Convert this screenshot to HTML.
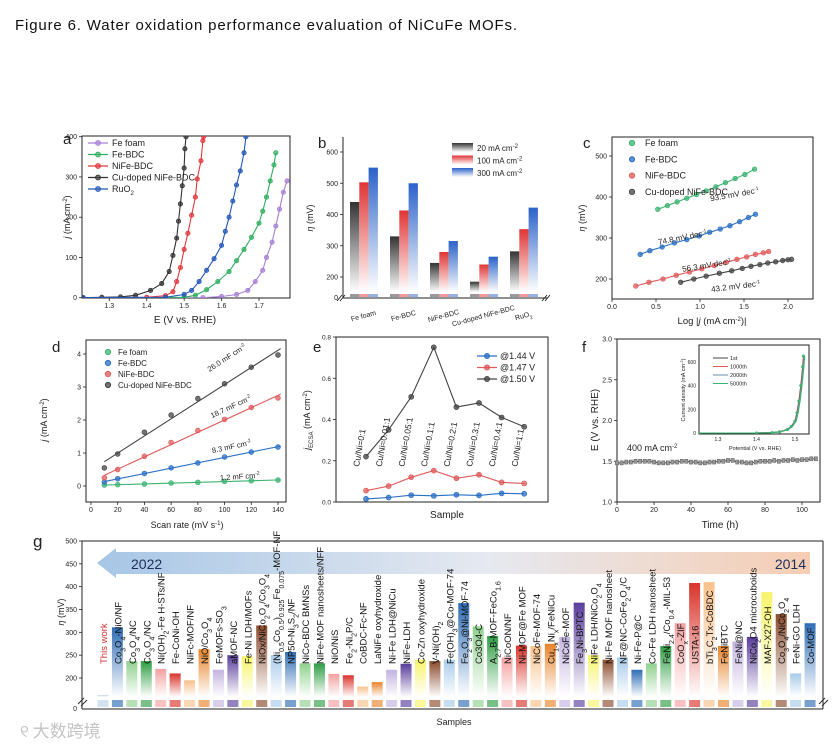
<!DOCTYPE html>
<html><head><meta charset="utf-8"><style>
html,body{margin:0;padding:0;background:#fff}
svg{display:block;font-family:"Liberation Sans","Noto Sans CJK SC",sans-serif}
</style></head><body>
<svg id="chart" width="833" height="746" viewBox="0 0 833 746" xmlns="http://www.w3.org/2000/svg">
<defs id="defs"></defs>
<text x="15" y="30" font-size="15" fill="#111" textLength="502">Figure 6. Water oxidation performance evaluation of NiCuFe MOFs.</text>
<text x="20" y="737" font-size="17" fill="#c4c4c4" font-family="'Noto Sans CJK SC',sans-serif">୧ 大数跨境</text>
</svg>
<script>
// ---------- data ----------
const aSeriesNames = ['Fe foam','Fe-BDC','NiFe-BDC','Cu-doped NiFe-BDC','RuO<tspan baseline-shift="sub" font-size="6">2</tspan>'];
const aFeFoamE = [1.23,1.55,1.60,1.64,1.67,1.69,1.71,1.72,1.735,1.745,1.755,1.765,1.775];
const aFeFoamJ = [0,0,3,8,18,40,68,100,138,178,220,262,290];
const aFeBdcE = [1.23,1.50,1.53,1.56,1.59,1.62,1.64,1.66,1.68,1.70,1.71,1.72,1.73,1.74,1.745];
const aFeBdcJ = [0,1,6,20,40,65,92,120,150,185,215,250,290,330,360];
const aNiFeE = [1.23,1.40,1.45,1.47,1.48,1.49,1.50,1.51,1.52,1.53,1.535,1.545,1.55,1.552];
const aNiFeJ = [0,1,5,15,40,75,120,160,205,250,295,340,390,400];
const aCuE = [1.23,1.28,1.33,1.37,1.41,1.44,1.46,1.47,1.48,1.485,1.49,1.495,1.50,1.502,1.505];
const aCuJ = [0,1,2,6,18,35,65,105,148,190,233,278,322,370,400];
const aRuE = [1.23,1.45,1.50,1.52,1.54,1.56,1.58,1.60,1.61,1.62,1.63,1.64,1.65,1.66,1.665];
const aRuJ = [0,1,8,18,40,68,97,130,165,200,240,280,315,360,400];
const aTicksX = [1.3,1.4,1.5,1.6,1.7];
const aTicksY = [0,100,200,300,400];
const bCategories = ['Fe foam','Fe-BDC','NiFe-BDC','Cu-doped NiFe-BDC','RuO<tspan baseline-shift="sub" font-size="5">2</tspan>'];
const b20 = [440,330,245,185,282];
const b100 = [503,413,280,240,353];
const b300 = [550,500,315,265,422];
const bTicksY = [200,300,400,500,600];
const cFeFoamX = [0.52,0.63,0.74,0.85,0.96,1.07,1.18,1.29,1.40,1.51,1.62];
const cFeFoamY = [370,379,388,397,406,415,425,435,445,455,468];
const cFeBdcX = [0.32,0.43,0.57,0.71,0.85,0.99,1.11,1.23,1.34,1.45,1.55,1.63];
const cFeBdcY = [260,269,278,288,296,305,314,322,330,340,350,358];
const cNiFeX = [0.27,0.42,0.58,0.73,0.88,1.02,1.16,1.30,1.42,1.53,1.63,1.72,1.78];
const cNiFeY = [183,192,200,209,217,225,233,241,248,254,260,264,267];
const cCuX = [0.78,0.93,1.07,1.22,1.36,1.48,1.58,1.68,1.77,1.86,1.94,2.00,2.04];
const cCuY = [192,200,207,214,220,226,231,235,239,242,245,247,248];
const cTicksX = [0.0,0.5,1.0,1.5,2.0];
const cTicksY = [200,300,400,500];
const dScan = [10,20,40,60,80,100,120,140];
const dFeFoam = [0.03,0.04,0.06,0.09,0.11,0.14,0.16,0.18];
const dFeBdc = [0.12,0.22,0.38,0.55,0.70,0.88,1.03,1.18];
const dNiFe = [0.25,0.50,0.90,1.32,1.68,2.02,2.38,2.67];
const dCu = [0.55,0.97,1.63,2.15,2.65,3.10,3.60,3.97];
const dTicksX = [0,20,40,60,80,100,120,140];
const dTicksY = [0,1,2,3,4];
const eSamples = ['Cu/Ni=0:1','Cu/Ni=0.01:1','Cu/Ni=0.05:1','Cu/Ni=0.1:1','Cu/Ni=0.2:1','Cu/Ni=0.3:1','Cu/Ni=0.4:1','Cu/Ni=1:1'];
const e144 = [0.015,0.022,0.033,0.030,0.035,0.032,0.042,0.040];
const e147 = [0.055,0.077,0.120,0.152,0.115,0.132,0.095,0.090];
const e150 = [0.22,0.35,0.51,0.75,0.46,0.48,0.41,0.365];
const eTicksY = [0.0,0.2,0.4,0.6,0.8];
const fTime = [0,2.5,5,7.5,10,12.5,15,17.5,20,22.5,25,27.5,30,32.5,35,37.5,40,42.5,45,47.5,50,52.5,55,57.5,60,62.5,65,67.5,70,72.5,75,77.5,80,82.5,85,87.5,90,92.5,95,97.5,100,102.5,105,107.5];
const fE = [1.48,1.48,1.49,1.49,1.50,1.50,1.50,1.50,1.49,1.48,1.48,1.48,1.49,1.49,1.50,1.50,1.49,1.49,1.48,1.48,1.49,1.49,1.50,1.50,1.51,1.51,1.49,1.49,1.48,1.48,1.49,1.50,1.50,1.50,1.51,1.50,1.51,1.51,1.52,1.51,1.52,1.52,1.53,1.53];
const fTicksX = [0,20,40,60,80,100];
const fTicksY = [1.0,1.5,2.0,2.5,3.0];
const fInsetE = [1.25,1.40,1.44,1.46,1.48,1.49,1.50,1.505,1.51,1.515,1.52,1.522];
const fInsetJ = [0,0,3,10,30,55,100,170,270,400,560,650];
const gSamples = ['This work','Co<tspan baseline-shift="sub" font-size="7">3</tspan>O<tspan baseline-shift="sub" font-size="7">4</tspan>-NiO/NF','Co<tspan baseline-shift="sub" font-size="7">3</tspan>O<tspan baseline-shift="sub" font-size="7">4</tspan>/NC','Co<tspan baseline-shift="sub" font-size="7">3</tspan>O<tspan baseline-shift="sub" font-size="7">4</tspan>/NC','Ni(OH)<tspan baseline-shift="sub" font-size="7">2</tspan>-Fe H-STs/NF','Fe-CoNi-OH','NiFc-MOF/NF','NiO/Co<tspan baseline-shift="sub" font-size="7">3</tspan>O<tspan baseline-shift="sub" font-size="7">4</tspan>','FeMOFs-SO<tspan baseline-shift="sub" font-size="7">3</tspan>','aMOF-NC','Fe-Ni LDH/MOFs','NiOx/NiCo<tspan baseline-shift="sub" font-size="7">2</tspan>O<tspan baseline-shift="sub" font-size="7">4</tspan>/Co<tspan baseline-shift="sub" font-size="7">3</tspan>O<tspan baseline-shift="sub" font-size="7">4</tspan>','(Ni<tspan baseline-shift="sub" font-size="7">0.5</tspan>Co<tspan baseline-shift="sub" font-size="7">0.5</tspan>)<tspan baseline-shift="sub" font-size="7">0.925</tspan>Fe<tspan baseline-shift="sub" font-size="7">0.075</tspan>-MOF-NF','NP50-Ni<tspan baseline-shift="sub" font-size="7">3</tspan>S<tspan baseline-shift="sub" font-size="7">2</tspan>/NF','NiCo-BDC BMNSs','NiFe-MOF nanosheets/NFF','NiO/NiS','Fe<tspan baseline-shift="sub" font-size="7">2</tspan>-Ni<tspan baseline-shift="sub" font-size="7">2</tspan>P/C','CoBDC-Fc-NF','LaNiFe oxyhydroxide','Ni-Fe LDH@NiCu','NiFe-LDH','Co-Zn oxyhydroxide','V-Ni(OH)<tspan baseline-shift="sub" font-size="7">2</tspan>','Fe(OH)<tspan baseline-shift="sub" font-size="7">3</tspan>@Co-MOF-74','Fe<tspan baseline-shift="sub" font-size="7">2</tspan>O<tspan baseline-shift="sub" font-size="7">3</tspan>@Ni-MOF-74','Co3O4-C','A<tspan baseline-shift="sub" font-size="7">2.7</tspan>B-MOF-FeCo<tspan baseline-shift="sub" font-size="7">1.6</tspan>','NiCoON/NF','Ni-MOF@Fe MOF','NiCoFe-MOF-74','Cu<tspan baseline-shift="sub" font-size="7">1-x</tspan>Ni<tspan baseline-shift="sub" font-size="7">x</tspan>/FeNiCu','NiCoFe-MOF','Fe<tspan baseline-shift="sub" font-size="7">3</tspan>Ni-BPTC','NiFe LDH/NiCo<tspan baseline-shift="sub" font-size="7">2</tspan>O<tspan baseline-shift="sub" font-size="7">4</tspan>','Ni-Fe MOF nanosheet','NF@NC-CoFe<tspan baseline-shift="sub" font-size="7">2</tspan>O<tspan baseline-shift="sub" font-size="7">4</tspan>/C','Ni-Fe-P@C','Co-Fe LDH nanosheet','FeNi<tspan baseline-shift="sub" font-size="7">2.4</tspan>/Co<tspan baseline-shift="sub" font-size="7">0.4</tspan>-MIL-53','CoO<tspan baseline-shift="sub" font-size="7">x</tspan>-ZIF','USTA-16','bTi<tspan baseline-shift="sub" font-size="7">3</tspan>C<tspan baseline-shift="sub" font-size="7">2</tspan>Tx-CoBDC','FeNiBTC','FeNi@NC','NiCo<tspan baseline-shift="sub" font-size="7">2</tspan>O4 microcuboids','MAF-X27-OH','Co<tspan baseline-shift="sub" font-size="7">3</tspan>O<tspan baseline-shift="sub" font-size="7">4</tspan>/NiCo<tspan baseline-shift="sub" font-size="7">2</tspan>O<tspan baseline-shift="sub" font-size="7">4</tspan>','FeNi-GO LDH','Co-MOF'];
const gValues = [160,311,237,237,220,210,195,263,218,250,248,315,250,257,232,232,209,206,181,191,218,231,240,237,240,364,313,292,245,271,270,275,290,365,250,240,245,218,232,270,320,408,410,270,280,290,388,340,210,320];
const gTicksY = [200,250,300,350,400,450,500];

// ---------- helpers ----------
const NS='http://www.w3.org/2000/svg';
const svg=document.getElementById('chart');
const defs=document.getElementById('defs');
function mk(tag, attrs, name, parent){
  const el=document.createElementNS(NS,tag);
  for(const k in attrs) el.setAttribute(k, attrs[k]);
  
  
  (parent||svg).appendChild(el);
  return el;
}
function txt(x,y,html,name,o){
  o=o||{};
  const a={x:x,y:y,'font-size':o.fs||8,fill:o.fill||'#222','text-anchor':o.anchor||'start'};
  if(o.rot!==undefined) a.transform='rotate('+o.rot+' '+x+' '+y+')';
  const t=mk('text',a,name,o.parent);
  t.innerHTML=html;
  return t;
}
function lin(d0,d1,r0,r1){return v=>r0+(v-d0)/(d1-d0)*(r1-r0);}
function grad(id,color,horiz){
  const g=document.createElementNS(NS,'linearGradient');
  g.setAttribute('id',id);g.setAttribute('x1','0');g.setAttribute('y1','0');
  g.setAttribute('x2',horiz?'1':'0');g.setAttribute('y2',horiz?'0':'1');
  g.innerHTML='<stop offset="0" stop-color="'+color+'"/><stop offset="1" stop-color="#fff"/>';
  defs.appendChild(g);
}
function box(x0,y0,x1,y1,name){mk('rect',{x:x0,y:y0,width:x1-x0,height:y1-y0,fill:'none',stroke:'#222','stroke-width':1},name);}
function xTicks(vals,sx,y,name,fmt,fs){vals.forEach(v=>{mk('line',{x1:sx(v),x2:sx(v),y1:y,y2:y+3,stroke:'#222','stroke-width':0.8},name+'-tick');txt(sx(v),y+10,fmt(v),name+'-label',{anchor:'middle',fs:fs||7});});}
function yTicks(vals,sy,x,name,fmt,fs){vals.forEach(v=>{mk('line',{x1:x-3,x2:x,y1:sy(v),y2:sy(v),stroke:'#222','stroke-width':0.8},name+'-tick');txt(x-5,sy(v)+2.5,fmt(v),name+'-label',{anchor:'end',fs:fs||7});});}
function poly(xs,ys,sx,sy,color,name,clip){
  const pts=xs.map((v,i)=>sx(v).toFixed(1)+','+sy(ys[i]).toFixed(1)).join(' ');
  const a={points:pts,fill:'none',stroke:color,'stroke-width':1.1};
  if(clip) a['clip-path']='url(#'+clip+')';
  mk('polyline',a,name);
}
function dots(xs,ys,sx,sy,color,name,r,clip){
  xs.forEach((v,i)=>{const a={cx:sx(v),cy:sy(ys[i]),r:r||2.4,fill:color,'fill-opacity':0.75,stroke:color,'stroke-width':0.7};
    if(clip) a['clip-path']='url(#'+clip+')';
    mk('circle',a,name);});
}
function clip(id,x,y,w,h){const c=document.createElementNS(NS,'clipPath');c.setAttribute('id',id);c.innerHTML='<rect x="'+x+'" y="'+y+'" width="'+w+'" height="'+h+'"/>';defs.appendChild(c);}

// ---------- panel a ----------
(function(){
  const xa=lin(1.3,1.7,109.3,259), ya=lin(0,400,297.7,136.7);
  clip('clipA',82,136,208,162);
  box(82,136,290,298,'panel-a-frame');
  txt(63,144,'a','panel-a-letter',{fs:15});
  xTicks(aTicksX,xa,298,'panel-a-x',v=>v.toFixed(1));
  yTicks(aTicksY,ya,82,'panel-a-y',v=>v);
  txt(185,323,'E (V vs. RHE)','panel-a-x-title',{anchor:'middle',fs:10});
  txt(70,217,'<tspan font-style="italic">j</tspan> (mA cm<tspan baseline-shift="super" font-size="6">-2</tspan>)','panel-a-y-title',{anchor:'middle',fs:9,rot:-90});
  const colors=['#a77fd6','#2fae5f','#e0383d','#333','#2457b8'];
  const E=[aFeFoamE,aFeBdcE,aNiFeE,aCuE,aRuE], J=[aFeFoamJ,aFeBdcJ,aNiFeJ,aCuJ,aRuJ];
  for(let s=0;s<5;s++){poly(E[s],J[s],xa,ya,colors[s],'panel-a-line-'+s,'clipA');dots(E[s],J[s],xa,ya,colors[s],'panel-a-point-'+s,2.2,'clipA');}
  aSeriesNames.forEach((n,i)=>{const y=143+11.5*i;
    mk('line',{x1:88,x2:108,y1:y,y2:y,stroke:colors[i],'stroke-width':1.2},'panel-a-legend-line');
    mk('circle',{cx:98,cy:y,r:2.4,fill:colors[i],'fill-opacity':0.6,stroke:colors[i]},'panel-a-legend-marker');
    txt(112,y+3,n,'panel-a-legend-label',{fs:9});});
})();

// ---------- panel b ----------
(function(){
  const yb=lin(200,600,277,152);
  const colors=['#333333','#e03535','#2a62c9'];
  colors.forEach((c,i)=>grad('gb'+i,c,false));
  mk('line',{x1:343,x2:343,y1:137,y2:298,stroke:'#222'},'panel-b-y-axis');
  mk('line',{x1:343,x2:548,y1:298,y2:298,stroke:'#222'},'panel-b-x-axis');
  txt(318,148,'b','panel-b-letter',{fs:15});
  yTicks(bTicksY,yb,343,'panel-b-y',v=>v);
  txt(338,300,'0','panel-b-y-zero',{anchor:'end',fs:7});
  txt(313,218,'<tspan font-style="italic">η</tspan> (mV)','panel-b-y-title',{anchor:'middle',fs:9,rot:-90});
  const series=[b20,b100,b300];
  bCategories.forEach((c,g)=>{
    series.forEach((s,k)=>{const x=350+40*g+9.3*k;
      mk('rect',{x:x,y:yb(s[g]),width:9.3,height:292-yb(s[g]),fill:'url(#gb'+k+')'},'panel-b-bar');
      mk('rect',{x:x,y:294,width:9.3,height:3,fill:colors[k],'fill-opacity':0.5},'panel-b-bar-base');});
    txt(364+40*g,318,c,'panel-b-x-label',{anchor:'middle',fs:7,rot:-15});
  });
  [[340,300],[545,300]].forEach(p=>{mk('path',{d:'M'+(p[0]-3)+' '+(p[1]+1)+' l5 -6 M'+(p[0])+' '+(p[1]+1)+' l5 -6',stroke:'#222',fill:'none','stroke-width':0.9},'panel-b-axis-break');});
  const lab=['20 mA cm<tspan baseline-shift="super" font-size="6">-2</tspan>','100 mA cm<tspan baseline-shift="super" font-size="6">-2</tspan>','300 mA cm<tspan baseline-shift="super" font-size="6">-2</tspan>'];
  lab.forEach((l,i)=>{const y=143+12.5*i;
    mk('rect',{x:452,y:y,width:21,height:9,fill:'url(#gb'+i+')'},'panel-b-legend-swatch');
    txt(477,y+8,l,'panel-b-legend-label',{fs:8});});
})();

// ---------- panel c ----------
(function(){
  const xc=lin(0,2,612,788), yc=lin(200,500,279,156);
  box(612,137,813,299,'panel-c-frame');
  txt(583,148,'c','panel-c-letter',{fs:15});
  xTicks(cTicksX,xc,299,'panel-c-x',v=>v.toFixed(1));
  yTicks(cTicksY,yc,612,'panel-c-y',v=>v);
  txt(712,324,'Log |<tspan font-style="italic">j</tspan> (mA cm<tspan baseline-shift="super" font-size="6">-2</tspan>)|','panel-c-x-title',{anchor:'middle',fs:9.5});
  txt(585,218,'<tspan font-style="italic">η</tspan> (mV)','panel-c-y-title',{anchor:'middle',fs:9,rot:-90});
  const colors=['#3cb371','#2a6fc4','#e05a5a','#444'];
  const X=[cFeFoamX,cFeBdcX,cNiFeX,cCuX], Y=[cFeFoamY,cFeBdcY,cNiFeY,cCuY];
  const names=['Fe foam','Fe-BDC','NiFe-BDC','Cu-doped NiFe-BDC'];
  for(let s=0;s<4;s++){poly(X[s],Y[s],xc,yc,colors[s],'panel-c-fit-'+s);dots(X[s],Y[s],xc,yc,colors[s],'panel-c-point-'+s,2.3);
    const y=143+16.3*s;mk('circle',{cx:632,cy:y,r:2.6,fill:colors[s],'fill-opacity':0.75,stroke:colors[s]},'panel-c-legend-marker');
    txt(645,y+3,names[s],'panel-c-legend-label',{fs:9});}
  const sl=[['93.5',735,197,-10],['74.8',683,240,-11],['56.3',707,268,-9],['43.2',736,289,-7]];
  sl.forEach(s=>txt(s[1],s[2],s[0]+' mV dec<tspan baseline-shift="super" font-size="5">-1</tspan>','panel-c-slope-label',{anchor:'middle',fs:8,rot:s[3]}));
})();

// ---------- panel d ----------
(function(){
  const xd=lin(0,140,91,278), yd=lin(0,4,486,354);
  box(86,340,286,502,'panel-d-frame');
  txt(52,352,'d','panel-d-letter',{fs:15});
  xTicks(dTicksX,xd,502,'panel-d-x',v=>v);
  yTicks(dTicksY,yd,86,'panel-d-y',v=>v);
  txt(187,528,'Scan rate (mV s<tspan baseline-shift="super" font-size="6">-1</tspan>)','panel-d-x-title',{anchor:'middle',fs:9});
  txt(47,420,'<tspan font-style="italic">j</tspan> (mA cm<tspan baseline-shift="super" font-size="6">-2</tspan>)','panel-d-y-title',{anchor:'middle',fs:9,rot:-90});
  const colors=['#3cb371','#2a6fc4','#e05a5a','#444'];
  const S=[dFeFoam,dFeBdc,dNiFe,dCu];
  const names=['Fe foam','Fe-BDC','NiFe-BDC','Cu-doped NiFe-BDC'];
  S.forEach((ys,s)=>{
    const n=dScan.length;let mx=0,my=0;dScan.forEach((x,i)=>{mx+=x;my+=ys[i];});mx/=n;my/=n;
    let num=0,den=0;dScan.forEach((x,i)=>{num+=(x-mx)*(ys[i]-my);den+=(x-mx)*(x-mx);});
    const k=num/den,b=my-k*mx;
    mk('line',{x1:xd(10),y1:yd(k*10+b),x2:xd(142),y2:yd(k*142+b),stroke:colors[s],'stroke-width':1.1},'panel-d-fit-'+s);
    dots(dScan,ys,xd,yd,colors[s],'panel-d-point-'+s,2.4);
    const y=352+11*s;mk('circle',{cx:108,cy:y,r:2.6,fill:colors[s],'fill-opacity':0.75,stroke:colors[s]},'panel-d-legend-marker');
    txt(118,y+3,names[s],'panel-d-legend-label',{fs:8});
  });
  const sl=[['26.0',228,360,-33],['18.7',232,409,-25],['8.3',232,449,-12],['1.2',240,479,-4]];
  sl.forEach(s=>txt(s[1],s[2],s[0]+' mF cm<tspan baseline-shift="super" font-size="5">-2</tspan>','panel-d-slope-label',{anchor:'middle',fs:7.5,rot:s[3]}));
})();

// ---------- panel e ----------
(function(){
  const ye=lin(0,0.8,502,337), xe=i=>366+22.6*i;
  box(336,337,548,502,'panel-e-frame');
  txt(313,352,'e','panel-e-letter',{fs:15});
  yTicks(eTicksY,ye,336,'panel-e-y',v=>v.toFixed(1),6.5);
  txt(447,518,'Sample','panel-e-x-title',{anchor:'middle',fs:10});
  txt(310,420,'<tspan font-style="italic">j</tspan><tspan baseline-shift="sub" font-size="6">ECSA</tspan> (mA cm<tspan baseline-shift="super" font-size="6">-2</tspan>)','panel-e-y-title',{anchor:'middle',fs:9,rot:-90});
  const colors=['#2a6fc4','#e05a5a','#444'];
  const S=[e144,e147,e150], L=['@1.44 V','@1.47 V','@1.50 V'];
  const idx=eSamples.map((s,i)=>i);
  S.forEach((ys,s)=>{poly(idx,ys,xe,ye,colors[s],'panel-e-line-'+s);dots(idx,ys,xe,ye,colors[s],'panel-e-point-'+s,2.5);
    const y=356+11.5*s;mk('line',{x1:477,x2:497,y1:y,y2:y,stroke:colors[s],'stroke-width':1.2},'panel-e-legend-line');
    mk('circle',{cx:487,cy:y,r:2.5,fill:colors[s],'fill-opacity':0.75,stroke:colors[s]},'panel-e-legend-marker');
    txt(500,y+3,L[s],'panel-e-legend-label',{fs:9});});
  eSamples.forEach((s,i)=>txt(xe(i)-7,467,s,'panel-e-sample-label',{fs:8.5,rot:-80}));
})();

// ---------- panel f ----------
(function(){
  const xf=lin(0,100,617,802), yf=lin(1,3,502,339);
  box(617,339,820,502,'panel-f-frame');
  txt(582,352,'f','panel-f-letter',{fs:15});
  xTicks(fTicksX,xf,502,'panel-f-x',v=>v);
  yTicks(fTicksY,yf,617,'panel-f-y',v=>v.toFixed(1));
  txt(720,528,'Time (h)','panel-f-x-title',{anchor:'middle',fs:10});
  txt(598,420,'E (V vs. RHE)','panel-f-y-title',{anchor:'middle',fs:10,rot:-90});
  poly(fTime,fE,xf,yf,'#555','panel-f-line');
  fTime.forEach((t,i)=>mk('rect',{x:xf(t)-1.6,y:yf(fE[i])-2,width:3.2,height:4,fill:'#999',stroke:'#555','stroke-width':0.5},'panel-f-point'));
  txt(627,451,'400 mA cm<tspan baseline-shift="super" font-size="6">-2</tspan>','panel-f-annotation',{fs:9});
  const xi=lin(1.3,1.5,718,795), yi=lin(0,600,433,362);
  clip('clipF',699,345,110,89);
  box(699,345,809,434,'panel-f-inset-frame');
  [1.3,1.4,1.5].forEach(v=>txt(xi(v),441,v.toFixed(1),'panel-f-inset-x-label',{anchor:'middle',fs:5}));
  [0,200,400,600].forEach(v=>txt(696,yi(v)+2,v,'panel-f-inset-y-label',{anchor:'end',fs:5}));
  txt(755,450,'Potential (V vs. RHE)','panel-f-inset-x-title',{anchor:'middle',fs:5.5});
  txt(685,390,'Current density (mA cm<tspan baseline-shift="super" font-size="4">-2</tspan>)','panel-f-inset-y-title',{anchor:'middle',fs:5.5,rot:-90});
  const ic=['#444','#e05a5a','#6a8fa8','#3cb371'], il=['1st','1000th','2000th','5000th'];
  ic.forEach((c,i)=>{poly(fInsetE,fInsetJ,v=>xi(v)+i*0.4,yi,c,'panel-f-inset-curve','clipF');
    const y=358+8.5*i;mk('line',{x1:713,x2:728,y1:y,y2:y,stroke:c,'stroke-width':1},'panel-f-inset-legend-line');
    txt(730,y+2,il[i],'panel-f-inset-legend-label',{fs:5.5});});
  dots(fInsetE,fInsetJ,xi,yi,'#3cb371','panel-f-inset-point',1.2,'clipF');
})();

// ---------- panel g ----------
(function(){
  const yg=lin(200,500,678,541);
  const pal=['#2f6db5','#8fd18f','#2f9e44','#f4a0a0','#d9342b','#f8c08a','#e8842a','#c3b3e0','#5a3d9c','#f7f46a','#8a4b2c','#a8cbea'];
  pal.forEach((c,i)=>grad('gg'+i,c,false));
  grad('ggw','#bcd3ea',false);
  const ag=document.createElementNS(NS,'linearGradient');ag.setAttribute('id','garrow');
  ag.innerHTML='<stop offset="0" stop-color="#a7c6e6"/><stop offset="0.55" stop-color="#e6e9f0"/><stop offset="1" stop-color="#f6cdb3"/>';defs.appendChild(ag);
  mk('line',{x1:82,x2:82,y1:541,y2:709,stroke:'#222'},'panel-g-y-axis');
  mk('line',{x1:82,x2:823,y1:709,y2:709,stroke:'#222'},'panel-g-x-axis');
  mk('line',{x1:82,x2:823,y1:541,y2:541,stroke:'#222'},'panel-g-top-border');
  mk('line',{x1:823,x2:823,y1:541,y2:709,stroke:'#222'},'panel-g-right-border');
  txt(33,547,'g','panel-g-letter',{fs:17});
  yTicks(gTicksY,yg,82,'panel-g-y',v=>v);
  txt(77,711,'0','panel-g-y-zero',{anchor:'end',fs:7});
  txt(454,725,'Samples','panel-g-x-title',{anchor:'middle',fs:9});
  txt(64,612,'<tspan font-style="italic">η</tspan> (mV)','panel-g-y-title',{anchor:'middle',fs:9,rot:-90});
  [[82,702],[823,702]].forEach(p=>mk('path',{d:'M'+(p[0]-4)+' '+(p[1]+2)+' l6 -6 M'+(p[0]-1)+' '+(p[1]+4)+' l6 -6',stroke:'#222',fill:'none','stroke-width':0.9},'panel-g-axis-break'));
  mk('polygon',{points:'97,563 116,548 116,552 810,552 810,574 116,574 116,578',fill:'url(#garrow)'},'panel-g-year-arrow');
  txt(131,569,'2022','panel-g-year-2022',{fs:14,fill:'#1c2f5a'});
  txt(806,569,'2014','panel-g-year-2014',{fs:14,fill:'#1c2f5a',anchor:'end'});
  gSamples.forEach((s,i)=>{
    const cx=103+14.43*i, top=Math.min(yg(gValues[i]),695);
    const gid=i===0?'ggw':'gg'+((i-1)%12);
    const col=i===0?'#bcd3ea':pal[(i-1)%12];
    mk('rect',{x:cx-5.5,y:top,width:11,height:697-top,fill:'url(#'+gid+')'},'panel-g-bar');
    mk('rect',{x:cx-5.5,y:700,width:11,height:7,fill:col,'fill-opacity':0.65},'panel-g-bar-base');
    txt(cx+4,664,s,'panel-g-bar-label',{fs:9.5,rot:-90,fill:i===0?'#d23030':'#111'});
  });
})();
</script>
</body></html>
